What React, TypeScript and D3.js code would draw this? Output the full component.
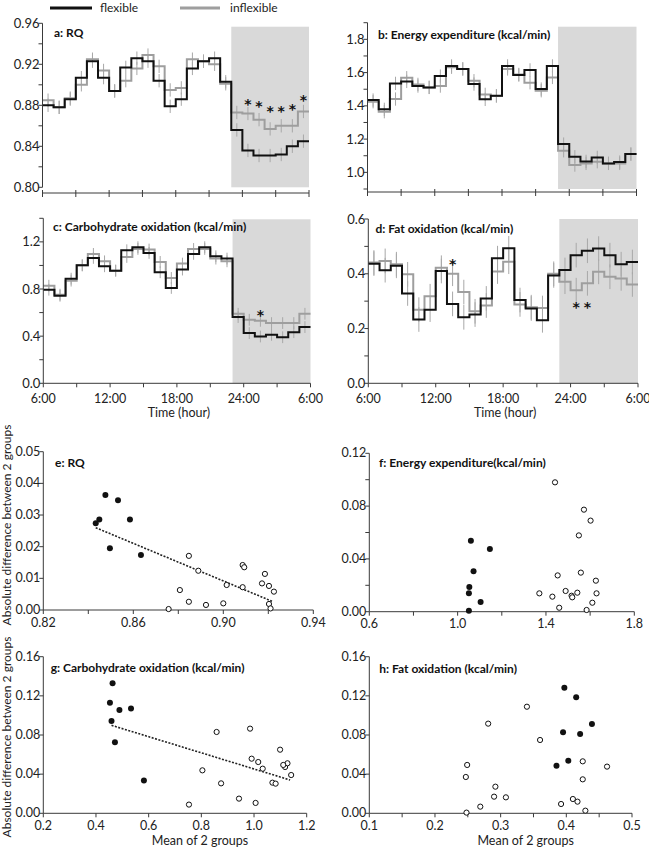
import React from 'react';
import * as d3 from 'd3';

// ---------- categories ----------
const hourIdx = d3.range(24); // 24 hourly bins, 6:00 -> 6:00
const timeTicks = [0, 3, 6, 9, 12, 15, 18, 21, 24];
const timeLabels = ['6:00', '12:00', '18:00', '24:00', '6:00'];
const timeLabelPos = [0, 6, 12, 18, 24];
const sleepStart = 17; // 23:00

// ---------- panel a: RQ ----------
const rqFlex = [0.880, 0.878, 0.886, 0.907, 0.923, 0.907, 0.894, 0.917, 0.926, 0.923, 0.904, 0.879, 0.886, 0.916, 0.923, 0.926, 0.903, 0.856, 0.836, 0.831, 0.831, 0.832, 0.840, 0.845];
const rqInflex = [0.885, 0.878, 0.887, 0.900, 0.925, 0.914, 0.894, 0.904, 0.916, 0.929, 0.918, 0.895, 0.897, 0.925, 0.923, 0.920, 0.901, 0.873, 0.872, 0.866, 0.857, 0.860, 0.860, 0.874];
const rqSem = [0.0065, 0.0065];
const rqStars = [[18, 0.885], [19, 0.883], [20, 0.878], [21, 0.878], [22, 0.880], [23, 0.889]];

// ---------- panel b: energy expenditure ----------
const eeFlex = [1.435, 1.379, 1.535, 1.547, 1.519, 1.511, 1.579, 1.640, 1.622, 1.531, 1.439, 1.461, 1.640, 1.585, 1.616, 1.501, 1.640, 1.170, 1.094, 1.066, 1.090, 1.054, 1.062, 1.110];
const eeInflex = [1.425, 1.365, 1.441, 1.569, 1.529, 1.511, 1.519, 1.632, 1.622, 1.551, 1.469, 1.459, 1.622, 1.589, 1.539, 1.491, 1.571, 1.130, 1.044, 1.054, 1.064, 1.054, 1.054, 1.110];
const eeSem = [0.04, 0.04];

// ---------- panel c: carbohydrate oxidation ----------
const choFlex = [0.794, 0.743, 0.888, 1.001, 1.064, 0.993, 0.956, 1.129, 1.155, 1.106, 0.942, 0.809, 0.965, 1.098, 1.155, 1.078, 1.058, 0.562, 0.426, 0.397, 0.411, 0.391, 0.434, 0.477];
const choInflex = [0.828, 0.752, 0.871, 1.001, 1.098, 1.035, 0.956, 1.072, 1.140, 1.135, 1.030, 0.894, 1.016, 1.140, 1.140, 1.058, 1.035, 0.590, 0.539, 0.530, 0.511, 0.511, 0.511, 0.590];
const choSem = [0.05, 0.05];
const choStars = [[19, 0.611]];

// ---------- panel d: fat oxidation ----------
const fatFlex = [0.437, 0.413, 0.429, 0.328, 0.233, 0.269, 0.410, 0.290, 0.241, 0.251, 0.310, 0.457, 0.493, 0.304, 0.273, 0.230, 0.394, 0.414, 0.468, 0.484, 0.492, 0.468, 0.435, 0.443];
const fatInflex = [0.441, 0.447, 0.435, 0.398, 0.269, 0.318, 0.422, 0.400, 0.333, 0.263, 0.284, 0.408, 0.444, 0.288, 0.278, 0.275, 0.400, 0.371, 0.340, 0.365, 0.407, 0.389, 0.383, 0.361];
const fatSem = [0.045, 0.045];
const fatStars = [[7, 0.45], [18, 0.29], [19, 0.29]];

// ---------- panel e: RQ mean vs difference ----------
const rqNight = [[0.8476, 0.0363], [0.8532, 0.0347], [0.8449, 0.0286], [0.8433, 0.0274], [0.8585, 0.0286], [0.8496, 0.0195], [0.8634, 0.0174]];
const rqDay = [[0.8847, 0.0171], [0.8889, 0.0124], [0.8807, 0.0063], [0.8847, 0.0026], [0.8923, 0.0016], [0.8757, 0.0003], [0.9000, 0.0021], [0.9015, 0.0079], [0.9086, 0.0142], [0.9093, 0.0135], [0.9086, 0.0072], [0.9185, 0.0114], [0.9172, 0.0084], [0.9203, 0.0076], [0.9225, 0.0058], [0.9203, 0.0019], [0.9210, 0.0005]];
const rqTrend = [[0.8433, 0.0260], [0.9222, 0.0026]];

// ---------- panel f: EE mean vs difference ----------
const eeNight = [[1.060, 0.0538], [1.146, 0.0475], [1.072, 0.0306], [1.053, 0.0187], [1.051, 0.0139], [1.104, 0.0073], [1.051, 0.0008]];
const eeDay = [[1.441, 0.0980], [1.572, 0.0773], [1.602, 0.0690], [1.549, 0.0578], [1.453, 0.0275], [1.558, 0.0296], [1.626, 0.0235], [1.370, 0.0139], [1.429, 0.0114], [1.489, 0.0157], [1.516, 0.0121], [1.519, 0.0109], [1.542, 0.0144], [1.629, 0.0139], [1.610, 0.0068], [1.460, 0.0030], [1.584, 0.0013]];

// ---------- panel g: CHO mean vs difference ----------
const choNight = [[0.463, 0.1328], [0.453, 0.1130], [0.489, 0.1055], [0.533, 0.1072], [0.459, 0.0943], [0.472, 0.0725], [0.582, 0.0334]];
const choDay = [[0.858, 0.0831], [0.985, 0.0865], [0.804, 0.0439], [0.875, 0.0306], [0.753, 0.0089], [0.943, 0.0150], [1.006, 0.0106], [0.991, 0.0558], [1.016, 0.0524], [1.033, 0.0456], [1.099, 0.0650], [1.118, 0.0473], [1.127, 0.0511], [1.111, 0.0494], [1.070, 0.0313], [1.082, 0.0303], [1.141, 0.0391]];
const choTrend = [[0.459, 0.0899], [1.137, 0.0340]];

// ---------- panel h: FAT mean vs difference ----------
const fatNight = [[0.397, 0.1283], [0.415, 0.1185], [0.439, 0.0912], [0.395, 0.0827], [0.421, 0.0810], [0.403, 0.0538], [0.385, 0.0487]];
const fatDay = [[0.340, 0.1089], [0.281, 0.0916], [0.360, 0.0749], [0.249, 0.0494], [0.247, 0.0371], [0.292, 0.0272], [0.290, 0.0170], [0.308, 0.0163], [0.269, 0.0068], [0.248, 0.0007], [0.425, 0.0531], [0.462, 0.0477], [0.425, 0.0347], [0.392, 0.0095], [0.410, 0.0146], [0.417, 0.0119], [0.429, 0.0027]];

const FONT = "Lato, 'Open Sans', sans-serif";
const STARFONT = "'DejaVu Sans', sans-serif";
const AXIS = '#3a3a3a';
const FLEX = '#111111';
const INFLEX = '#9e9e9e';
const ERR = '#a8a8a8';
const SHADE = '#d9d9d9';

type StepProps = {
  x0: number; x1: number; yTop: number; yBot: number; domain: [number, number];
  yMajor: number[]; yMinor: number[]; fmt: (v: number) => string;
  flex: number[]; inflex: number[]; sem: number[];
  title: string; titleX: number; titleY: number; shadeTop: number;
  xAxisY: number; crossTicks: boolean; showXLabels: boolean; stars?: number[][];
};

function StepPanel(p: StepProps) {
  const x = d3.scaleLinear().domain([0, 24]).range([p.x0, p.x1]);
  const y = d3.scaleLinear().domain(p.domain).range([p.yBot, p.yTop]);
  const line = d3.line<number>().x((_, i) => x(i)).y(d => y(d)).curve(d3.curveStepAfter);
  const ext = (a: number[]) => [...a, a[a.length - 1]];
  const errs = (a: number[], s: number, col: string, key: string) =>
    a.map((v, i) => (
      <line key={key + i} x1={x(hourIdx[i] + 0.5)} x2={x(hourIdx[i] + 0.5)} y1={y(v - s)} y2={y(v + s)} stroke={col} strokeWidth={1} />
    ));
  return (
    <g>
      <rect x={x(sleepStart)} y={p.shadeTop} width={x(24) - x(sleepStart)} height={p.yBot - p.shadeTop} fill={SHADE} />
      {errs(p.inflex, p.sem[1], ERR, 'ei')}
      {errs(p.flex, p.sem[0], ERR, 'ef')}
      <path d={line(ext(p.inflex)) || ''} fill="none" stroke={INFLEX} strokeWidth={2} />
      <path d={line(ext(p.flex)) || ''} fill="none" stroke={FLEX} strokeWidth={2} />
      {/* y axis */}
      <line x1={p.x0} x2={p.x0} y1={p.yTop} y2={p.yBot} stroke={AXIS} strokeWidth={1} />
      {[...p.yMajor, ...p.yMinor].map((t, i) => (
        <line key={'yt' + i} x1={p.x0 - 4} x2={p.x0} y1={y(t)} y2={y(t)} stroke={AXIS} strokeWidth={1} />
      ))}
      {p.yMajor.map((t, i) => (
        <text key={'yl' + i} x={p.x0 - 3} y={y(t) + 4.5} textAnchor="end" fontSize={13} fontFamily={FONT} fill="#222">{p.fmt(t)}</text>
      ))}
      {/* x axis */}
      <line x1={p.x0} x2={p.x1} y1={p.xAxisY} y2={p.xAxisY} stroke={AXIS} strokeWidth={1} />
      {timeTicks.map((t, i) => (
        <line key={'xt' + i} x1={x(t)} x2={x(t)} y1={p.crossTicks ? p.xAxisY - 3 : p.xAxisY} y2={p.xAxisY + 4} stroke={AXIS} strokeWidth={1} />
      ))}
      {p.showXLabels && timeLabelPos.map((t, i) => (
        <text key={'xl' + i} x={x(t)} y={p.xAxisY + 19.5} textAnchor="middle" fontSize={12.5} fontFamily={FONT} fill="#222">{timeLabels[i]}</text>
      ))}
      {p.showXLabels && (
        <text x={(p.x0 + p.x1) / 2 + 2} y={p.xAxisY + 34} textAnchor="middle" fontSize={12.5} fontFamily={FONT} fill="#222">Time (hour)</text>
      )}
      <text x={p.titleX} y={p.titleY} fontSize={12} fontWeight="bold" fontFamily={FONT} fill="#111">{p.title}</text>
      {(p.stars || []).map((s, i) => (
        <text key={'st' + i} x={x(s[0] + 0.5)} y={y(s[1]) + 8.5} textAnchor="middle" fontSize={14} fontWeight="bold" fontFamily={STARFONT} fill="#111">*</text>
      ))}
    </g>
  );
}

type ScatterProps = {
  x0: number; x1: number; yTop: number; yBot: number;
  xDomain: [number, number]; yDomain: [number, number];
  xMajor: number[]; xMinor: number[]; yMajor: number[]; yMinor: number[];
  xFmt: (v: number) => string; yFmt: (v: number) => string;
  night: number[][]; day: number[][]; trend?: number[][];
  title: string; titleX: number; titleY: number; xLabel: boolean;
};

function ScatterPanel(p: ScatterProps) {
  const x = d3.scaleLinear().domain(p.xDomain).range([p.x0, p.x1]);
  const y = d3.scaleLinear().domain(p.yDomain).range([p.yBot, p.yTop]);
  return (
    <g>
      <line x1={p.x0} x2={p.x0} y1={p.yTop} y2={p.yBot} stroke={AXIS} strokeWidth={1} />
      <line x1={p.x0} x2={p.x1} y1={p.yBot} y2={p.yBot} stroke={AXIS} strokeWidth={1} />
      {[...p.yMajor, ...p.yMinor].map((t, i) => (
        <line key={'yt' + i} x1={p.x0 - 4} x2={p.x0} y1={y(t)} y2={y(t)} stroke={AXIS} strokeWidth={1} />
      ))}
      {p.yMajor.map((t, i) => (
        <text key={'yl' + i} x={p.x0 - 3} y={y(t) + 4} textAnchor="end" fontSize={12.5} fontFamily={FONT} fill="#222">{p.yFmt(t)}</text>
      ))}
      {[...p.xMajor, ...p.xMinor].map((t, i) => (
        <line key={'xt' + i} x1={x(t)} x2={x(t)} y1={p.yBot} y2={p.yBot + 4} stroke={AXIS} strokeWidth={1} />
      ))}
      {p.xMajor.map((t, i) => (
        <text key={'xl' + i} x={x(t)} y={p.yBot + 16.5} textAnchor="middle" fontSize={12.5} fontFamily={FONT} fill="#222">{p.xFmt(t)}</text>
      ))}
      {p.xLabel && (
        <text x={(p.x0 + p.x1) / 2 + 25} y={p.yBot + 32} textAnchor="middle" fontSize={12.5} fontFamily={FONT} fill="#222">Mean of 2 groups</text>
      )}
      {p.trend && (
        <line x1={x(p.trend[0][0])} y1={y(p.trend[0][1])} x2={x(p.trend[1][0])} y2={y(p.trend[1][1])} stroke="#222" strokeWidth={1.6} strokeDasharray="2,1.5" />
      )}
      {p.day.map((d, i) => (
        <circle key={'d' + i} cx={x(d[0])} cy={y(d[1])} r={2.6} fill="#fff" stroke="#111" strokeWidth={1} />
      ))}
      {p.night.map((d, i) => (
        <circle key={'n' + i} cx={x(d[0])} cy={y(d[1])} r={3} fill="#111" />
      ))}
      <text x={p.titleX} y={p.titleY} fontSize={12} fontWeight="bold" fontFamily={FONT} fill="#111">{p.title}</text>
    </g>
  );
}

const f2 = (v: number) => d3.format('.2f')(v);
const f1 = (v: number) => d3.format('.1f')(v);

export default function App() {
  const L = { x0: 42.5, x1: 309 };
  const R = { x0: 367.5, x1: 636.5 };
  return (
    <svg width={649} height={848} style={{ position: 'absolute', left: 0, top: 0, background: '#fff' }}>
      <rect x={0} y={0} width={649} height={848} fill="#fff" />
      {/* legend */}
      <line x1={50} x2={92} y1={8} y2={8} stroke={FLEX} strokeWidth={3} />
      <text x={100} y={12} fontSize={12} fontFamily={FONT} fill="#222">flexible</text>
      <line x1={180} x2={220} y1={8} y2={8} stroke={INFLEX} strokeWidth={3} />
      <text x={230} y={12} fontSize={12} fontFamily={FONT} fill="#222">inflexible</text>

      <StepPanel {...L} yTop={23.3} yBot={187.3} domain={[0.80, 0.96]} yMajor={[0.80, 0.84, 0.88, 0.92, 0.96]} yMinor={[0.82, 0.86, 0.90, 0.94]} fmt={f2}
        flex={rqFlex} inflex={rqInflex} sem={rqSem} title="a: RQ" titleX={54} titleY={37} shadeTop={26.7}
        xAxisY={193} crossTicks={true} showXLabels={false} stars={rqStars} />
      <StepPanel {...R} yTop={22.7} yBot={189} domain={[0.9, 1.9]} yMajor={[1.0, 1.2, 1.4, 1.6, 1.8]} yMinor={[0.9, 1.1, 1.3, 1.5, 1.7, 1.9]} fmt={f1}
        flex={eeFlex} inflex={eeInflex} sem={eeSem} title="b: Energy expenditure (kcal/min)" titleX={378} titleY={39} shadeTop={26.7}
        xAxisY={192} crossTicks={true} showXLabels={false} />
      <StepPanel x0={43.3} x1={310.5} yTop={218.3} yBot={383.3} domain={[0, 1.4]} yMajor={[0.0, 0.4, 0.8, 1.2]} yMinor={[0.2, 0.6, 1.0, 1.4]} fmt={f1}
        flex={choFlex} inflex={choInflex} sem={choSem} title="c: Carbohydrate oxidation (kcal/min)" titleX={53} titleY={231} shadeTop={219.3}
        xAxisY={383.3} crossTicks={false} showXLabels={true} stars={choStars} />
      <StepPanel x0={368.3} x1={638} yTop={219} yBot={383.3} domain={[0, 0.6]} yMajor={[0.0, 0.2, 0.4, 0.6]} yMinor={[0.1, 0.3, 0.5]} fmt={f1}
        flex={fatFlex} inflex={fatInflex} sem={fatSem} title="d: Fat oxidation (kcal/min)" titleX={375.5} titleY={233} shadeTop={219}
        xAxisY={383.3} crossTicks={false} showXLabels={true} stars={fatStars} />

      <ScatterPanel x0={43.3} x1={313.3} yTop={451.7} yBot={610} xDomain={[0.82, 0.94]} yDomain={[0, 0.05]}
        xMajor={[0.82, 0.86, 0.90, 0.94]} xMinor={[0.84, 0.88, 0.92]} yMajor={[0, 0.01, 0.02, 0.03, 0.04, 0.05]} yMinor={[]}
        xFmt={f2} yFmt={f2} night={rqNight} day={rqDay} trend={rqTrend} title="e: RQ" titleX={55} titleY={467} xLabel={false} />
      <ScatterPanel x0={369.3} x1={634.3} yTop={453.3} yBot={611.7} xDomain={[0.6, 1.8]} yDomain={[0, 0.12]}
        xMajor={[0.6, 1.0, 1.4, 1.8]} xMinor={[0.8, 1.2, 1.6]} yMajor={[0, 0.04, 0.08, 0.12]} yMinor={[0.02, 0.06, 0.10]}
        xFmt={f1} yFmt={f2} night={eeNight} day={eeDay} title="f: Energy expenditure(kcal/min)" titleX={379} titleY={467} xLabel={false} />
      <ScatterPanel x0={43.3} x1={306.7} yTop={656.7} yBot={813.3} xDomain={[0.2, 1.2]} yDomain={[0, 0.16]}
        xMajor={[0.2, 0.4, 0.6, 0.8, 1.0, 1.2]} xMinor={[]} yMajor={[0, 0.04, 0.08, 0.12, 0.16]} yMinor={[]}
        xFmt={f1} yFmt={f2} night={choNight} day={choDay} trend={choTrend} title="g: Carbohydrate oxidation (kcal/min)" titleX={50.7} titleY={672} xLabel={true} />
      <ScatterPanel x0={369.3} x1={632} yTop={656.7} yBot={813.3} xDomain={[0.1, 0.5]} yDomain={[0, 0.16]}
        xMajor={[0.1, 0.2, 0.3, 0.4, 0.5]} xMinor={[0.15, 0.25, 0.35, 0.45]} yMajor={[0, 0.04, 0.08, 0.12, 0.16]} yMinor={[]}
        xFmt={f1} yFmt={f2} night={fatNight} day={fatDay} title="h: Fat oxidation (kcal/min)" titleX={379.3} titleY={673} xLabel={true} />

      <text transform="translate(11,525) rotate(-90)" textAnchor="middle" fontSize={12} fontFamily={FONT} fill="#222">Absolute difference between 2 groups</text>
      <text transform="translate(11,737) rotate(-90)" textAnchor="middle" fontSize={12} fontFamily={FONT} fill="#222">Absolute difference between 2 groups</text>
    </svg>
  );
}
